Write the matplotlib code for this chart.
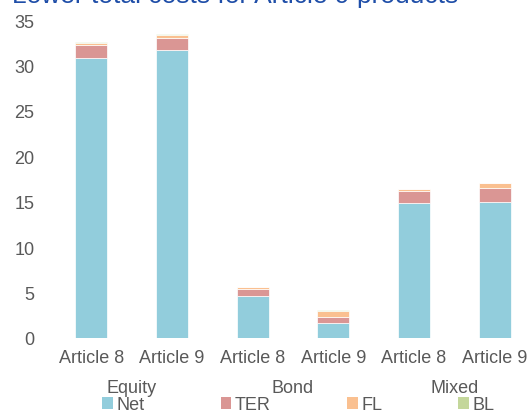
import numpy as np
import matplotlib
matplotlib.use("Agg")
import matplotlib.pyplot as plt
import matplotlib.transforms as mtransforms
from matplotlib.patches import Patch

plt.rcParams['font.family'] = ['Liberation Sans', 'DejaVu Sans']

# Data
bar_labels = ["Article 8", "Article 9", "Article 8", "Article 9", "Article 8", "Article 9"]
groups = ["Equity", "Bond", "Mixed"]
net = [30.8, 31.7, 4.6, 1.6, 14.85, 14.95]
ter = [1.5, 1.3, 0.8, 0.7, 1.35, 1.55]
fl = [0.2, 0.4, 0.2, 0.7, 0.2, 0.55]
bl = [0.05, 0.05, 0.05, 0.05, 0.05, 0.05]

series = [("Net", net, "#92CDDC"), ("TER", ter, "#DA9694"),
          ("FL", fl, "#FAC090"), ("BL", bl, "#C4D79B")]

text_col = "#595959"

fig = plt.figure(figsize=(5.28, 4.14), dpi=100)
ax = fig.add_axes([51 / 528, 75 / 414, 484 / 528, 318 / 414])

x = np.arange(len(bar_labels))
bottom = np.zeros(len(x))
for name, vals, col in series:
    ax.bar(x, vals, 0.4, bottom=bottom, color=col, edgecolor="white", linewidth=0.5)
    bottom += np.array(vals)

ax.set_xlim(-0.5, len(x) - 0.5)
ax.set_ylim(0, 35)
ax.set_yticks(range(0, 36, 5))
ax.set_xticks(x)
ax.set_xticklabels(bar_labels)
ax.tick_params(axis="both", length=0, colors=text_col, labelsize=13)
ax.tick_params(axis="y", pad=12)
ax.tick_params(axis="x", pad=8)
for s in ax.spines.values():
    s.set_visible(False)

trans = mtransforms.blended_transform_factory(ax.transData, ax.transAxes)
for i, g in enumerate(groups):
    ax.text(2 * i + 0.5, -0.155, g, transform=trans, ha="center", va="center",
            fontsize=13, color=text_col)

handles = [Patch(facecolor=c, label=n) for n, _, c in series]
fig.legend(handles=handles, loc="center", bbox_to_anchor=(0.565, 0.02), ncol=4,
           frameon=False, fontsize=13, handlelength=0.6, handleheight=0.6,
           handletextpad=0.2, columnspacing=4.2, labelcolor=text_col,
           borderaxespad=0, borderpad=0)

# title is clipped at the top edge in the original
fig.text(12 / 528, 1 - 3.5 / 414, "Lower total costs for Article 9 products",
         ha="left", va="baseline", fontsize=19, color="#1F4EA8")

fig.savefig("out.png", dpi=100)
